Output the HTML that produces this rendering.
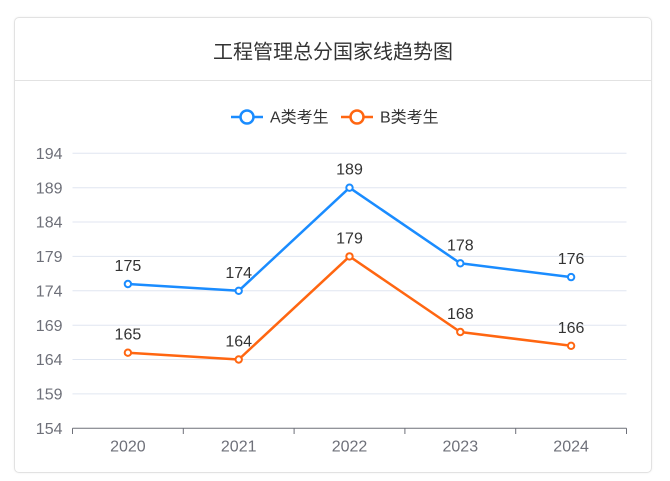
<!DOCTYPE html>
<html><head><meta charset="utf-8"><style>
html,body{margin:0;padding:0;background:#fff;}
body{width:670px;height:481px;overflow:hidden;position:relative;}
.card{position:absolute;left:14px;top:17px;width:638px;height:456px;border:1px solid #e2e2e2;border-radius:5px;box-sizing:border-box;box-shadow:0 0 2px rgba(0,0,0,0.06);}
.div{position:absolute;left:14px;top:80px;width:638px;height:1px;background:#e2e2e2;}
svg{position:absolute;left:0;top:0;}
</style></head><body>
<div class="card"></div>
<div class="div"></div>
<svg width="670" height="481" viewBox="0 0 670 481" font-family="'Liberation Sans','Noto Sans CJK SC',sans-serif">
<text x="333" y="58.5" text-anchor="middle" font-size="20" fill="#333" font-family="'Liberation Sans','Noto Sans CJK SC',sans-serif">工程管理总分国家线趋势图</text>
<g>
<line x1="231" y1="117" x2="263" y2="117" stroke="#1a8cff" stroke-width="2.5"/>
<circle cx="247" cy="117" r="6.5" fill="#fff" stroke="#1a8cff" stroke-width="2.5"/>
<text x="270" y="122.5" font-size="16" fill="#333">A类考生</text>
<line x1="341" y1="117" x2="373" y2="117" stroke="#ff6611" stroke-width="2.5"/>
<circle cx="357" cy="117" r="6.5" fill="#fff" stroke="#ff6611" stroke-width="2.5"/>
<text x="380" y="122.5" font-size="16" fill="#333">B类考生</text>
</g>
<g stroke="#e0e6f1" stroke-width="1">
<line x1="72.5" y1="153.3" x2="626.5" y2="153.3"/>
<line x1="72.5" y1="187.7" x2="626.5" y2="187.7"/>
<line x1="72.5" y1="222" x2="626.5" y2="222"/>
<line x1="72.5" y1="256.4" x2="626.5" y2="256.4"/>
<line x1="72.5" y1="290.8" x2="626.5" y2="290.8"/>
<line x1="72.5" y1="325.2" x2="626.5" y2="325.2"/>
<line x1="72.5" y1="359.5" x2="626.5" y2="359.5"/>
<line x1="72.5" y1="393.9" x2="626.5" y2="393.9"/>
</g>
<g stroke="#6e7079" stroke-width="1">
<line x1="72.5" y1="428.3" x2="626.5" y2="428.3"/>
<line x1="72.5" y1="428.3" x2="72.5" y2="434"/>
<line x1="183.3" y1="428.3" x2="183.3" y2="434"/>
<line x1="294.1" y1="428.3" x2="294.1" y2="434"/>
<line x1="404.9" y1="428.3" x2="404.9" y2="434"/>
<line x1="515.7" y1="428.3" x2="515.7" y2="434"/>
<line x1="626.5" y1="428.3" x2="626.5" y2="434"/>
</g>
<g font-size="16" fill="#6e7079" text-anchor="end">
<text x="62.5" y="159">194</text>
<text x="62.5" y="193.4">189</text>
<text x="62.5" y="227.7">184</text>
<text x="62.5" y="262.1">179</text>
<text x="62.5" y="296.5">174</text>
<text x="62.5" y="330.9">169</text>
<text x="62.5" y="365.2">164</text>
<text x="62.5" y="399.6">159</text>
<text x="62.5" y="434">154</text>
</g>
<g font-size="16" fill="#6e7079" text-anchor="middle">
<text x="127.9" y="451.5">2020</text>
<text x="238.7" y="451.5">2021</text>
<text x="349.5" y="451.5">2022</text>
<text x="460.3" y="451.5">2023</text>
<text x="571.1" y="451.5">2024</text>
</g>
<polyline points="127.9,284 238.7,290.8 349.5,187.7 460.3,263.3 571.1,277.1" fill="none" stroke="#1a8cff" stroke-width="2.5" stroke-linejoin="round"/>
<g fill="#fff" stroke="#1a8cff" stroke-width="2">
<circle cx="127.9" cy="284" r="3.2"/><circle cx="238.7" cy="290.8" r="3.2"/><circle cx="349.5" cy="187.7" r="3.2"/><circle cx="460.3" cy="263.3" r="3.2"/><circle cx="571.1" cy="277.1" r="3.2"/>
</g>
<polyline points="127.9,352.7 238.7,359.5 349.5,256.4 460.3,332 571.1,345.8" fill="none" stroke="#ff6611" stroke-width="2.5" stroke-linejoin="round"/>
<g fill="#fff" stroke="#ff6611" stroke-width="2">
<circle cx="127.9" cy="352.7" r="3.2"/><circle cx="238.7" cy="359.5" r="3.2"/><circle cx="349.5" cy="256.4" r="3.2"/><circle cx="460.3" cy="332" r="3.2"/><circle cx="571.1" cy="345.8" r="3.2"/>
</g>
<g font-size="16" fill="#333" text-anchor="middle">
<text x="127.9" y="271">175</text>
<text x="238.7" y="277.8">174</text>
<text x="349.5" y="174.7">189</text>
<text x="460.3" y="250.3">178</text>
<text x="571.1" y="264.1">176</text>
<text x="127.9" y="339.7">165</text>
<text x="238.7" y="346.5">164</text>
<text x="349.5" y="243.4">179</text>
<text x="460.3" y="319">168</text>
<text x="571.1" y="332.8">166</text>
</g>
</svg>
</body></html>
